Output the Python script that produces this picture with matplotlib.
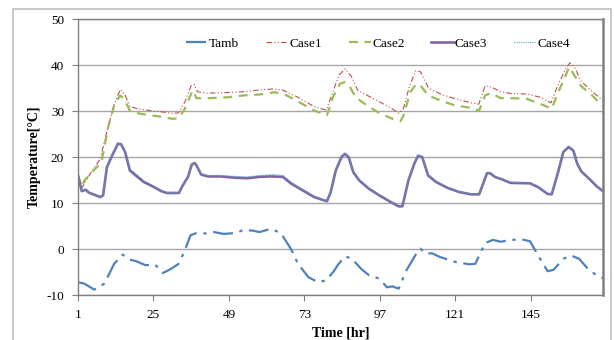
"""Hourly temperature comparison: ambient vs. four cases."""

import matplotlib.pyplot as plt
from matplotlib.patches import Rectangle

# values (hour, temperature)
tamb_h = [1, 3, 6.2, 9.4, 12.5, 15.2, 17.5, 19.4, 22.5, 25.6, 28, 30.6, 33, 35, 36.8,
          38.7, 41.8, 44.3, 47.4, 51.2, 53.7, 56.8, 58.7, 62.4, 65.5, 68.7, 71, 74.3,
          77.4, 79.9, 82.4, 83.6, 85.9, 88, 91.1, 93.6, 96.8, 99.3, 101, 103, 105.5,
          108.6, 109.9, 111.7, 113.6, 116.1, 121.1, 125.5, 127.4, 130.5, 133, 135.5,
          138.6, 142.3, 144.8, 148, 150.4, 152.3, 155.4, 157.9, 160.4, 163.5, 166, 168]
tamb_t = [-7.2, -7.5, -8.8, -7.5, -3.2, -1.2, -2.3, -2.6, -3.5, -3.4, -5.2, -4.3, -3.2,
          -0.3, 3.0, 3.5, 3.4, 3.7, 3.3, 3.5, 4.2, 4.0, 3.7, 4.4, 3.5, 0.1, -3.2, -6.1,
          -7.2, -6.8, -4.8, -3.5, -1.6, -2.0, -4.3, -5.7, -6.4, -8.3, -8.1, -8.6, -4.6,
          -1.0, 0.1, -1.0, -0.9, -1.7, -2.8, -3.3, -3.2, 1.3, 2.0, 1.6, 2.0, 2.1, 1.7,
          -2.1, -4.8, -4.5, -2.1, -1.4, -2.1, -4.5, -5.7, -6.3]

case1_h = [1, 2, 3, 5, 8, 10, 12.5, 14.5, 16, 17.5, 20, 24, 28, 31, 33, 35, 37, 38, 39,
           42, 48, 54, 59, 63, 66, 71, 76, 80, 82, 84, 86, 88, 90, 95, 101, 103, 104.5,
           106.5, 108.5, 110, 112.5, 117, 121, 126, 128.5, 130.5, 132.5, 135.5, 139, 144,
           148, 151.5, 153.6, 156, 157.5, 159, 161, 165, 168]
case1_t = [16, 13.0, 14.2, 16.5, 19.5, 25, 31.5, 34.7, 33.5, 31, 30.5, 30.1, 29.8, 29.5,
           29.6, 32, 35.5, 35.8, 34.2, 33.9, 34.0, 34.2, 34.6, 34.8, 34.6, 33, 31, 30.2,
           34, 37.8, 39.2, 37.5, 34.5, 32.7, 30.5, 29.5, 30.5, 35.5, 38.8, 38.5, 35, 33.5,
           32.7, 31.8, 31.5, 35.5, 35.2, 34.2, 33.8, 33.7, 33.0, 31.8, 35.5, 39, 40.5,
           39.5, 36.5, 34, 32.3]

case2_h = [1, 2.2, 3, 5, 7.5, 8.5, 10.6, 12.5, 14.4, 15.6, 17.5, 19.4, 23.7, 26.2, 28.7,
           31.2, 33.1, 35, 36.5, 37.5, 38.7, 42.4, 48.7, 53.7, 58.7, 63.7, 67.4, 71.2,
           76.2, 80.2, 82.1, 84.3, 85.9, 87.4, 89.3, 93, 96.8, 101.1, 103.6, 104.6, 106.7,
           108.6, 109.9, 112.4, 117.4, 121.1, 126.1, 128.6, 130.5, 132.4, 135.5, 138.6,
           143.6, 148.7, 151.7, 153.6, 157.3, 158.6, 161.1, 164.9, 168]
case2_t = [16, 13.5, 14.9, 16.4, 18.2, 18.9, 26.5, 31.2, 33.4, 32.7, 30.1, 29.6, 29.1,
           28.9, 28.6, 28.3, 28.5, 30.5, 33.0, 34.5, 32.8, 32.8, 33.0, 33.4, 33.6, 34.1,
           33.4, 32.0, 30.1, 29.1, 33.0, 35.9, 36.3, 35.4, 33.0, 31.2, 29.6, 28.3, 27.8,
           29.1, 34.1, 35.9, 35.6, 33.4, 32.0, 31.2, 30.7, 30.1, 33.4, 33.9, 32.8, 32.8,
           32.7, 31.4, 30.5, 33.8, 39.6, 38.1, 35.4, 33.2, 31.0]

case3_h = [1, 2.2, 3.5, 4.4, 8.1, 9, 10.2, 11.9, 13.7, 14.7, 16, 17.5, 19.4, 21.9, 24.3,
           27.5, 29.3, 33.1, 34.3, 36, 37.2, 38.1, 38.7, 40.2, 42.4, 46.2, 51.2, 54.9,
           58.7, 62.4, 66.2, 68.7, 72.4, 76.2, 80.2, 81.4, 83, 84.9, 85.9, 87.1, 88.6,
           90.5, 93.6, 96.8, 101.1, 103, 104.2, 106.1, 108, 109.2, 110.5, 112.4, 114.9,
           118.6, 122.3, 126.1, 128.6, 130.2, 131.1, 132.1, 133.6, 136.1, 138.6, 144.8,
           147.3, 150.4, 151.7, 153.6, 155.4, 157.1, 158.6, 159.8, 161.1, 163.6, 166.1, 168]
case3_t = [16.0, 12.6, 12.9, 12.3, 11.3, 11.7, 17.8, 20.4, 22.9, 22.8, 21.1, 17.1, 16.0,
           14.6, 13.8, 12.6, 12.2, 12.2, 13.8, 15.7, 18.4, 18.7, 18.2, 16.2, 15.8, 15.8,
           15.5, 15.4, 15.7, 15.8, 15.7, 14.3, 12.8, 11.3, 10.4, 12.4, 17.1, 20.1, 20.7,
           20.0, 16.7, 14.9, 13.1, 11.7, 10.0, 9.3, 9.3, 14.9, 18.6, 20.3, 20.0, 16.0,
           14.6, 13.3, 12.4, 11.9, 11.9, 14.8, 16.5, 16.5, 15.7, 15.1, 14.4, 14.3, 13.5,
           12.0, 11.9, 16.4, 21.1, 22.2, 21.4, 18.6, 16.9, 15.3, 13.6, 12.6]

case4_h = [1, 2.2, 3.5, 4.4, 8.1, 9, 10.2, 11.9, 13.7, 14.7, 16, 17.5, 19.4, 21.9, 24.3,
           27.5, 29.3, 33.1, 34.3, 36, 37.2, 38.1, 38.7, 40.2, 42.4, 46.2, 51.2, 54.9,
           58.7, 62.4, 66.2, 68.7, 72.4, 76.2, 80.2, 81.4, 83, 84.9, 85.9, 87.1, 88.6,
           90.5, 93.6, 96.8, 101.1, 103, 104.2, 106.1, 108, 109.2, 110.5, 112.4, 114.9,
           118.6, 122.3, 126.1, 128.6, 130.2, 131.1, 132.1, 133.6, 136.1, 138.6, 144.8,
           147.3, 150.4, 151.7, 153.6, 155.4, 157.1, 158.6, 159.8, 161.1, 163.6, 166.1, 168]
case4_t = [16.0, 12.7, 13.0, 12.4, 11.2, 11.8, 17.9, 20.5, 23.0, 22.9, 21.3, 17.4, 16.4,
           14.9, 14.0, 12.8, 12.3, 12.3, 13.9, 15.8, 18.5, 18.8, 18.3, 16.4, 16.0, 16.0,
           15.8, 15.7, 16.0, 16.2, 16.0, 14.6, 13.0, 11.5, 10.5, 12.5, 17.2, 20.2, 20.8,
           20.1, 16.9, 15.1, 13.3, 11.9, 10.1, 9.4, 9.4, 15.0, 18.7, 20.4, 20.1, 16.2,
           14.8, 13.4, 12.5, 12.0, 12.0, 14.9, 16.6, 16.6, 15.8, 15.2, 14.5, 14.4, 13.6,
           12.1, 12.0, 16.5, 21.2, 22.3, 21.5, 18.7, 17.0, 15.4, 13.7, 12.7]

xticks = [1, 25, 49, 73, 97, 121, 145]
yticks = [-10, 0, 10, 20, 30, 40, 50]

plt.rcParams["font.family"] = ["Liberation Serif", "DejaVu Serif"]
plt.rcParams["axes.unicode_minus"] = False

fig = plt.figure(figsize=(6.14, 3.40), dpi=100)
fig.patches.append(Rectangle((13 / 614, -0.05), 598 / 614, 1.05 - 9 / 340,
                             transform=fig.transFigure, fill=False,
                             edgecolor="#BFBFBF", lw=1.2))
ax = fig.add_axes([0.127, 0.132, 0.855, 0.812])

ax.plot(tamb_h, tamb_t, color="#4F81BD", lw=1.6, ls=(0, (9, 3, 1.5, 3)), label="Tamb")
ax.plot(case1_h, case1_t, color="#C0504D", lw=0.8, ls=(0, (5, 2, 1, 2, 1, 2)), label="Case1")
ax.plot(case2_h, case2_t, color="#9BBB59", lw=1.6, ls=(0, (4, 3)), label="Case2")
ax.plot(case3_h, case3_t, color="#8064A2", lw=1.9, label="Case3")
ax.plot(case4_h, case4_t, color="#4BACC6", lw=0.8, ls=(0, (1, 1)), label="Case4")

ax.set_xlim(1, 168)
ax.set_ylim(-10, 50)
ax.set_xticks(xticks)
ax.set_yticks(yticks)
ax.tick_params(labelsize=9.5, length=4, color="#808080", direction="out", pad=6)
ax.grid(axis="y", color="#A6A6A6", lw=1)
ax.set_axisbelow(True)
for s in ax.spines.values():
    s.set_color("#808080")
    s.set_linewidth(1)
ax.spines["right"].set_linewidth(1.8)

ax.set_xlabel("Time [hr]", fontsize=10, fontweight="bold", labelpad=4)
ax.set_ylabel("Temperature[°C]", fontsize=10, fontweight="bold", labelpad=4)

ax.legend(loc="center", bbox_to_anchor=(0.571, 0.91), ncol=5, frameon=False,
          fontsize=9.5, handlelength=1.7, handletextpad=0.1, columnspacing=2.0)

fig.savefig("out.png", dpi=100, facecolor="white")
